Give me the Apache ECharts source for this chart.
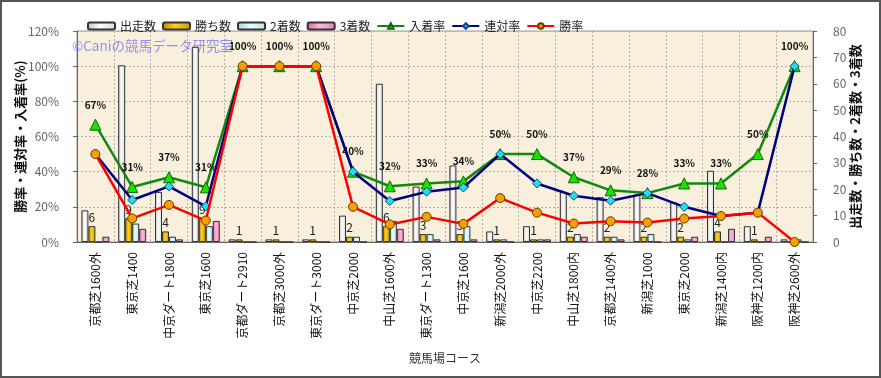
<!DOCTYPE html>
<html>
<head>
<meta charset="utf-8">
<script src="https://cdn.jsdelivr.net/npm/echarts@6/dist/echarts.min.js"></script>
<style>
  html, body { margin: 0; padding: 0; background: #fff; }
  #chart { width: 881px; height: 378px; }
</style>
</head>
<body>
<div id="chart"></div>
<script>
// コース
const courses = [
  '京都芝1600外', '東京芝1400', '中京ダート1800', '東京芝1600', '京都ダート2910',
  '京都芝3000外', '東京ダート3000', '中京芝2000', '中山芝1600外', '東京ダート1300',
  '中京芝1600', '新潟芝2000外', '中京芝2200', '中山芝1800内', '京都芝1400外',
  '新潟芝1000', '東京芝2000', '新潟芝1400内', '阪神芝1200内', '阪神芝2600外'
];
// 出走数・勝ち数・2着数・3着数
const starts = [12, 67, 19, 74, 1, 1, 1, 10, 60, 21, 29, 4, 6, 19, 17, 18, 15, 27, 6, 1];
const wins = [6, 9, 4, 9, 1, 1, 1, 2, 6, 3, 3, 1, 1, 2, 2, 2, 2, 4, 1, 0];
const seconds = [0, 7, 2, 6, 0, 0, 0, 2, 8, 3, 6, 1, 1, 3, 2, 3, 1, 0, 0, 1];
const thirds = [2, 5, 1, 8, 0, 0, 0, 0, 5, 1, 1, 0, 1, 2, 1, 0, 2, 5, 2, 0];
// 入着率・連対率・勝率 (%)
const placeRate = [66.7, 31.3, 36.8, 31.1, 100, 100, 100, 40, 31.7, 33.3, 34.48, 50, 50, 36.8, 29.4, 27.8, 33.3, 33.3, 50, 100];
const quinellaRate = [50, 23.9, 31.6, 20.3, 100, 100, 100, 40, 23.3, 28.6, 31.0, 50, 33.3, 26.3, 23.5, 27.8, 20.0, 14.8, 16.7, 100];
const winRate = [50, 13.4, 21.1, 12.2, 100, 100, 100, 20, 10, 14.3, 10.3, 25, 16.7, 10.5, 11.8, 11.1, 13.3, 14.8, 16.7, 0];
// 軸目盛
const rateTicks = {min: 0, max: 120, interval: 20};
const countTicks = {min: 0, max: 80, interval: 10};

const font = '"Noto Sans CJK JP", "Noto Sans", sans-serif';

// 横方向グラデーション
function grad(c1, c2, c3) {
  return new echarts.graphic.LinearGradient(0, 0, 1, 0, [
    {offset: 0, color: c1},
    {offset: 0.45, color: c2},
    {offset: 1, color: c3}
  ]);
}

const myChart = echarts.init(document.getElementById('chart'));
let option;
option = {
  backgroundColor: '#fff',
  textStyle: {fontFamily: font},
  animation: false,
  legend: {
    left: 82,
    top: 15,
    itemWidth: 27,
    itemHeight: 7,
    itemGap: 6,
    textStyle: {fontSize: 12, color: '#222', fontFamily: font},
    data: ['出走数', '勝ち数', '2着数', '3着数', '入着率', '連対率', '勝率']
  },
  grid: {
    left: 77,
    right: 68,
    top: 31,
    bottom: 136,
    show: true,
    backgroundColor: '#f8efdc',
    borderColor: '#999',
    borderWidth: 1
  },
  graphic: [
    {
      type: 'text',
      left: 72,
      top: 39,
      z: 1,
      style: {
        text: '©Caniの競馬データ研究室',
        fill: 'rgba(110, 110, 250, 0.75)',
        font: '13.5px ' + font
      }
    },
    {
      type: 'rect',
      z: 100,
      shape: {x: 1, y: 1, width: 879, height: 376},
      style: {fill: 'transparent', stroke: '#555', lineWidth: 2}
    }
  ],
  xAxis: {
    type: 'category',
    data: courses,
    name: '競馬場コース',
    nameLocation: 'middle',
    nameGap: 110,
    nameMoveOverlap: false,
    nameTextStyle: {fontSize: 12, color: '#333'},
    axisLine: {lineStyle: {color: '#666'}},
    axisTick: {show: false},
    axisLabel: {rotate: 90, interval: 0, margin: 10, fontSize: 12, color: '#111'},
    splitLine: {
      show: true,
      interval: 0,
      lineStyle: {color: '#b5b0a5', type: [2, 2]}
    }
  },
  yAxis: [
    {
      type: 'value',
      ...rateTicks,
      name: '勝率・連対率・入着率(%)',
      nameLocation: 'middle',
      nameRotate: 90,
      nameGap: 50,
      nameMoveOverlap: false,
      nameTextStyle: {fontSize: 13, color: '#111', fontWeight: 'bold'},
      axisLine: {show: true, lineStyle: {color: '#666'}},
      axisTick: {show: true, length: 4, lineStyle: {color: '#666'}},
      axisLabel: {formatter: '{value}%', fontSize: 12, color: '#666', margin: 18},
      splitLine: {lineStyle: {color: '#b5b0a5', type: [2, 2]}}
    },
    {
      type: 'value',
      ...countTicks,
      position: 'right',
      name: '出走数・勝ち数・2着数・3着数',
      nameLocation: 'middle',
      nameRotate: 90,
      nameGap: 36,
      nameMoveOverlap: false,
      nameTextStyle: {fontSize: 13, color: '#111', fontWeight: 'bold'},
      axisLine: {show: true, lineStyle: {color: '#666'}},
      axisTick: {show: true, length: 4, lineStyle: {color: '#666'}},
      axisLabel: {fontSize: 12, color: '#666', margin: 20},
      splitLine: {show: false}
    }
  ],
  series: [
    {
      name: '出走数',
      type: 'bar',
      yAxisIndex: 1,
      barWidth: 7,
      barGap: '0%',
      data: starts,
      itemStyle: {color: grad('#bdbdbd', '#ffffff', '#d6d6d6'), borderColor: '#333', borderWidth: 1}
    },
    {
      name: '勝ち数',
      type: 'bar',
      yAxisIndex: 1,
      barWidth: 7,
      data: wins,
      itemStyle: {color: grad('#b88a00', '#ffd21a', '#c99a00'), borderColor: '#333', borderWidth: 1},
      label: {
        show: true,
        position: 'top',
        distance: 3,
        fontSize: 12,
        color: '#222',
        formatter: p => (p.value ? p.value : '')
      }
    },
    {
      name: '2着数',
      type: 'bar',
      yAxisIndex: 1,
      barWidth: 7,
      data: seconds,
      itemStyle: {color: grad('#9fd3d3', '#e6ffff', '#b5e5e5'), borderColor: '#333', borderWidth: 1}
    },
    {
      name: '3着数',
      type: 'bar',
      yAxisIndex: 1,
      barWidth: 7,
      data: thirds,
      itemStyle: {color: grad('#d0689c', '#ffb6dc', '#e088b8'), borderColor: '#333', borderWidth: 1}
    },
    {
      name: '入着率',
      type: 'line',
      yAxisIndex: 0,
      data: placeRate,
      symbol: 'triangle',
      symbolSize: 11,
      lineStyle: {color: '#0f8a0f', width: 2.5},
      itemStyle: {color: '#22dd00', borderColor: '#0a6a0a', borderWidth: 1},
      label: {
        show: true,
        position: 'top',
        distance: 9,
        fontSize: 10,
        fontWeight: 'bold',
        color: '#111',
        formatter: p => Math.round(p.value) + '%'
      },
      z: 3
    },
    {
      name: '連対率',
      type: 'line',
      yAxisIndex: 0,
      data: quinellaRate,
      symbol: 'diamond',
      symbolSize: 9,
      lineStyle: {color: '#000080', width: 2.5},
      itemStyle: {color: '#22e0e8', borderColor: '#0a4a8a', borderWidth: 1},
      z: 4
    },
    {
      name: '勝率',
      type: 'line',
      yAxisIndex: 0,
      data: winRate,
      symbol: 'circle',
      symbolSize: 9,
      lineStyle: {color: '#ff0000', width: 2.5},
      itemStyle: {color: '#f5a000', borderColor: '#6a3a00', borderWidth: 1},
      z: 5
    }
  ]
};
myChart.setOption(option);
</script>
</body>
</html>
